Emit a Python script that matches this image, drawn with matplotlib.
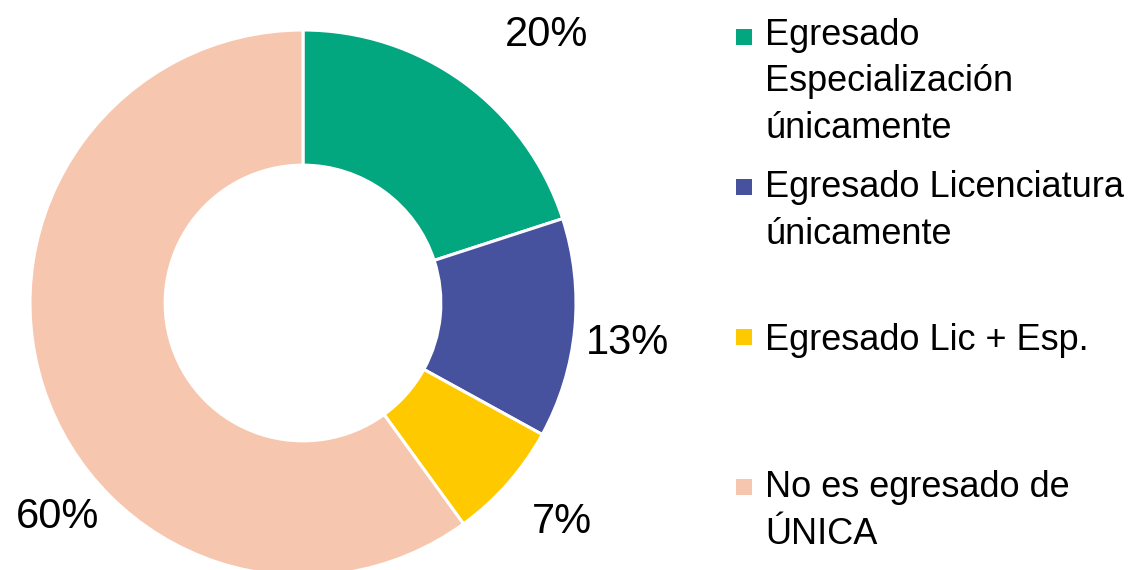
import numpy as np
import matplotlib.pyplot as plt
from matplotlib.patches import Rectangle

plt.rcParams['font.family'] = ['Liberation Sans', 'DejaVu Sans']

categories = ["Egresado\nEspecialización\núnicamente",
              "Egresado Licenciatura\núnicamente",
              "Egresado Lic + Esp.",
              "No es egresado de\nÚNICA"]
shares = [20, 13, 7, 60]
colors = ["#02A67F", "#46529E", "#FFC900", "#F7C6AE"]

# where the percentage labels sit (angle in degrees, radius in units of the pie radius)
label_angle = [47.7, -7.0, -40.2, 221.1]
label_dist = [1.327, 1.198, 1.243, 1.192]

W, H = 1128, 570
fig = plt.figure(figsize=(W / 100, H / 100), dpi=100)

# pie centre at (303, 303) px, radius 273 px
cx, cy, r = 303, 303, 273
ax = fig.add_axes([(cx - r) / W, (H - cy - r) / H, 2 * r / W, 2 * r / H])
wedges, _ = ax.pie(shares, colors=colors, startangle=90, counterclock=False,
                   radius=1.0,
                   wedgeprops=dict(width=0.495, edgecolor="white", linewidth=2.2))
ax.set_xlim(-1, 1)
ax.set_ylim(-1, 1)
ax.set_aspect("equal")
ax.axis("off")

for v, a, d in zip(shares, label_angle, label_dist):
    t = np.deg2rad(a)
    ax.text(d * np.cos(t), d * np.sin(t), f"{v}%", ha="center", va="center",
            fontsize=30, color="black", clip_on=False)

# legend drawn by hand so each entry starts 150 px below the previous one
line_px = 44
for i, (lab, col) in enumerate(zip(categories, colors)):
    base = 50 + 150 * i
    fig.patches.append(Rectangle((736 / W, 1 - (base - 5) / H), 16 / W, 16 / H,
                                 transform=fig.transFigure, facecolor=col,
                                 edgecolor="none"))
    # baseline alignment of multiline text uses the last line
    last = base + line_px * lab.count("\n")
    fig.text(765 / W, 1 - last / H, lab, ha="left", va="baseline",
             fontsize=26, linespacing=1.43, color="black")

fig.savefig("out.png", dpi=100)
